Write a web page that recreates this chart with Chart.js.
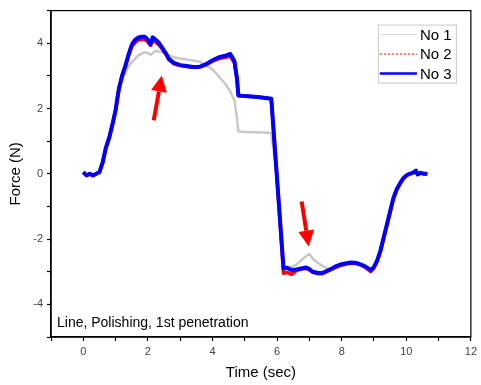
<!DOCTYPE html>
<html>
<head>
<meta charset="utf-8">
<script src="https://cdn.jsdelivr.net/npm/chart.js@4/dist/chart.umd.min.js"></script>
<style>
  html, body { margin: 0; padding: 0; background: #fff; }
  #wrap { width: 481px; height: 385px; }
</style>
</head>
<body>
<div id="wrap"><canvas id="chart" width="481" height="385"></canvas></div>
<script>
// time axis (sec), shared by the three runs
const times = [0, 0.1, 0.2, 0.3, 0.4, 0.5, 0.6, 0.7, 0.8, 0.9, 1.0, 1.1, 1.2, 1.3, 1.4, 1.5, 1.6, 1.7, 1.8, 1.9,
	2.0, 2.08, 2.15, 2.25, 2.35, 2.45, 2.55, 2.65, 2.8, 3.0, 3.2, 3.4, 3.6, 3.8, 4.0, 4.2, 4.4, 4.55, 4.68, 4.76,
	4.8, 5.0, 5.4, 5.82, 6.0, 6.2, 6.3, 6.45, 6.6, 6.75, 6.9, 7.0, 7.1, 7.25, 7.4, 7.55, 7.7, 7.85, 8.0, 8.15,
	8.3, 8.45, 8.6, 8.75, 8.9, 9.0, 9.1, 9.2, 9.3, 9.4, 9.5, 9.6, 9.7, 9.8, 9.9, 10.0, 10.1, 10.2, 10.3, 10.35,
	10.45, 10.55, 10.65];

// Force (N)
const no1 = [0.05, -0.05, 0.0, -0.05, 0.0, 0.05, 0.35, 0.8, 1.1, 1.5, 1.95, 2.5, 2.85, 3.1, 3.3, 3.42, 3.52, 3.62, 3.68, 3.72,
	3.7, 3.64, 3.7, 3.77, 3.74, 3.72, 3.68, 3.62, 3.57, 3.53, 3.5, 3.47, 3.43, 3.33, 3.2, 2.98, 2.75, 2.52, 2.25, 1.7,
	1.3, 1.28, 1.27, 1.25, -0.16, -2.9, -2.85, -2.85, -2.78, -2.65, -2.52, -2.45, -2.6, -2.72, -2.82, -2.9, -2.9, -2.82, -2.77, -2.74,
	-2.72, -2.73, -2.78, -2.85, -2.95, -2.85, -2.65, -2.35, -1.95, -1.55, -1.15, -0.75, -0.48, -0.3, -0.15, -0.05, 0.0, 0.03, 0.1, -0.02,
	0.03, 0.0, 0.0];

const no2 = [0.05, -0.05, 0.0, -0.05, 0.0, 0.05, 0.35, 0.8, 1.1, 1.5, 1.95, 2.6, 3.0, 3.3, 3.62, 3.9, 4.02, 4.1, 4.12, 4.12,
	4.04, 3.93, 4.1, 4.03, 3.94, 3.82, 3.68, 3.5, 3.37, 3.32, 3.29, 3.26, 3.27, 3.34, 3.45, 3.53, 3.57, 3.61, 3.4, 2.9,
	2.4, 2.38, 2.35, 2.3, -0.16, -3.05, -3.02, -3.08, -2.96, -2.92, -2.9, -2.94, -3.02, -3.06, -3.06, -2.99, -2.92, -2.85, -2.8, -2.76,
	-2.74, -2.75, -2.8, -2.88, -3.0, -2.88, -2.68, -2.38, -1.98, -1.58, -1.17, -0.77, -0.5, -0.31, -0.16, -0.06, 0.0, 0.03, 0.08, -0.02,
	0.03, 0.0, 0.0];

const no3 = [0.05, -0.05, 0.0, -0.05, 0.0, 0.05, 0.35, 0.8, 1.1, 1.5, 1.95, 2.6, 3.0, 3.3, 3.65, 3.95, 4.1, 4.17, 4.2, 4.2,
	4.1, 3.97, 4.18, 4.1, 4.0, 3.85, 3.7, 3.52, 3.4, 3.33, 3.3, 3.27, 3.28, 3.36, 3.48, 3.57, 3.62, 3.67, 3.45, 2.9,
	2.4, 2.38, 2.35, 2.3, -0.16, -2.9, -2.88, -2.95, -2.93, -2.9, -2.87, -2.92, -3.0, -3.03, -3.04, -2.97, -2.9, -2.82, -2.77, -2.74,
	-2.72, -2.73, -2.78, -2.85, -2.95, -2.85, -2.65, -2.35, -1.95, -1.55, -1.15, -0.75, -0.48, -0.3, -0.15, -0.05, 0.0, 0.03, 0.1, -0.02,
	0.03, 0.0, 0.0];

const seriesNames = ['No 1', 'No 2', 'No 3'];
const xTicks = [0, 2, 4, 6, 8, 10, 12];
const yTicks = [-4, -2, 0, 2, 4];
const noteText = 'Line, Polishing, 1st penetration';
// red arrows: [tailTime, tailForce, tipTime, tipForce]
const arrows = [[2.18, 1.64, 2.43, 3.01], [6.76, -0.85, 6.98, -2.23]];

const FONT = "'Liberation Sans', Arial, sans-serif";

function pts(vals) {
	return times.map((t, i) => ({ x: t, y: vals[i] }));
}

const styles = [
	{ color: '#c8c8c8', width: 2.5, order: 2, legendColor: '#d8d8d8', legendWidth: 1, dash: [], legendDash: [] },
	{ color: '#ff0000', width: 3.5, order: 1, legendColor: '#ff5050', legendWidth: 1.5, dash: [], legendDash: [2, 2] },
	{ color: '#0000ff', width: 4, order: 0, legendColor: '#0000ff', legendWidth: 2.5, dash: [], legendDash: [] }
];

const extras = {
	id: 'extras',
	afterDatasetsDraw(chart) {
		const ctx = chart.ctx;
		const a = chart.chartArea;
		const xs = chart.scales.x, ys = chart.scales.y;
		ctx.save();

		// arrows
		ctx.strokeStyle = '#ff0000';
		ctx.fillStyle = '#ff0000';
		arrows.forEach(ar => {
			const x0 = xs.getPixelForValue(ar[0]), y0 = ys.getPixelForValue(ar[1]);
			const x1 = xs.getPixelForValue(ar[2]), y1 = ys.getPixelForValue(ar[3]);
			const ang = Math.atan2(y1 - y0, x1 - x0);
			const headLen = 16, headHalf = 8;
			const bx = x1 - headLen * Math.cos(ang), by = y1 - headLen * Math.sin(ang);
			ctx.lineWidth = 4;
			ctx.beginPath(); ctx.moveTo(x0, y0); ctx.lineTo(bx, by); ctx.stroke();
			ctx.beginPath();
			ctx.moveTo(x1, y1);
			ctx.lineTo(bx + headHalf * Math.sin(ang), by - headHalf * Math.cos(ang));
			ctx.lineTo(bx - headHalf * Math.sin(ang), by + headHalf * Math.cos(ang));
			ctx.closePath(); ctx.fill();
		});

		// note text
		ctx.fillStyle = '#000';
		ctx.font = '14px ' + FONT;
		ctx.textBaseline = 'alphabetic';
		ctx.textAlign = 'left';
		ctx.fillText(noteText, a.left + 6, a.bottom - 10);

		// legend box
		const bw = 78, bh = 58;
		const bl = a.right - 15 - bw, bt = a.top + 14;
		ctx.fillStyle = '#fff';
		ctx.fillRect(bl, bt, bw, bh);
		ctx.strokeStyle = '#c8c8c8';
		ctx.lineWidth = 1;
		ctx.strokeRect(bl + 0.5, bt + 0.5, bw, bh);
		ctx.font = '15px ' + FONT;
		ctx.textBaseline = 'middle';
		seriesNames.forEach((name, i) => {
			const yy = bt + 10 + i * 19.5;
			const st = styles[i];
			ctx.strokeStyle = st.legendColor;
			ctx.lineWidth = st.legendWidth;
			ctx.setLineDash(st.legendDash);
			ctx.beginPath(); ctx.moveTo(bl + 2, yy); ctx.lineTo(bl + 39, yy); ctx.stroke();
			ctx.setLineDash([]);
			ctx.fillStyle = '#000';
			ctx.fillText(name, bl + 42, yy + 1);
		});

		ctx.restore();
	},
	afterDraw(chart) {
		const ctx = chart.ctx;
		const a = chart.chartArea;
		ctx.save();
		ctx.strokeStyle = '#000';
		ctx.lineWidth = 1.2;
		ctx.strokeRect(a.left, a.top, a.right - a.left, a.bottom - a.top);
		ctx.restore();
	}
};

new Chart(document.getElementById('chart'), {
	type: 'line',
	data: {
		datasets: [no1, no2, no3].map((vals, i) => ({
			label: seriesNames[i],
			data: pts(vals),
			borderColor: styles[i].color,
			borderWidth: styles[i].width,
			borderDash: styles[i].dash,
			borderJoinStyle: 'round',
			pointRadius: 0,
			tension: 0,
			fill: false,
			order: styles[i].order
		}))
	},
	options: {
		responsive: false,
		animation: false,
		layout: { padding: { left: 0, right: 7, top: 7, bottom: 0 } },
		plugins: { legend: { display: false }, tooltip: { enabled: false } },
		scales: {
			x: {
				type: 'linear', min: -1, max: 12,
				afterFit: s => { s.height = 48; },
				ticks: {
					stepSize: 1, autoSkip: false, maxRotation: 0, padding: 4,
					color: '#444', font: { family: FONT, size: 11 },
					callback: v => xTicks.includes(v) ? String(v) : ''
				},
				grid: { drawOnChartArea: false, tickLength: 4, color: '#000', tickWidth: 1.2 },
				border: { color: '#000', width: 1.5 },
				title: { display: true, text: 'Time (sec)', color: '#000', font: { family: FONT, size: 15 }, padding: { top: 0, bottom: 3 } }
			},
			y: {
				min: -5, max: 5,
				afterFit: s => { s.width = 51; },
				ticks: {
					stepSize: 1, autoSkip: false, padding: 4,
					color: '#444', font: { family: FONT, size: 11 },
					callback: v => yTicks.includes(v) ? String(v) : ''
				},
				grid: { drawOnChartArea: false, tickLength: 4, color: '#000', tickWidth: 1.2 },
				border: { color: '#000', width: 1.5 },
				title: { display: true, text: 'Force (N)', color: '#000', font: { family: FONT, size: 15 }, padding: { top: 7, bottom: 0 } }
			}
		}
	},
	plugins: [extras]
});
</script>
</body>
</html>
